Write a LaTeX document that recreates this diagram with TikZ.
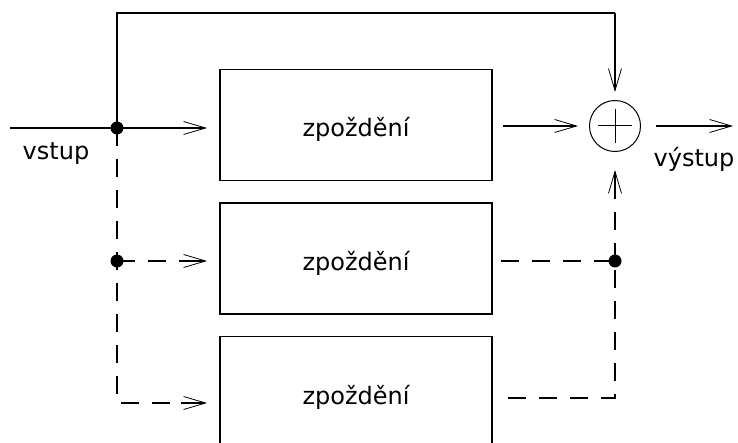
\documentclass[tikz,border=0pt]{standalone}
\usepackage{fontspec}
\setmainfont{DejaVu Sans}
\usetikzlibrary{arrows.meta}
\begin{document}
\begin{tikzpicture}[x=1pt,y=-1pt,
  line width=1.3pt,
  txt/.style={font=\fontsize{24pt}{28pt}\selectfont, inner sep=0pt, anchor=base},
  delaybox/.style={draw, line width=1.3pt, minimum width=272pt, minimum height=111pt,
    inner sep=0pt, font=\fontsize{24pt}{28pt}\selectfont, text height=24pt, text depth=0pt},
  sumnode/.style={draw, circle, line width=1pt, minimum size=51pt, inner sep=0pt},
  dot/.style={circle, fill=black, inner sep=0pt, minimum size=13pt},
  arr/.style={-{Straight Barb[length=22pt,width=13pt,line width=0.8pt]}},
  dsh/.style={dash pattern=on 18pt off 13pt}]
\clip (0,0) rectangle (738,443);
\useasboundingbox (0,0) rectangle (738,443);
\fill[white] (0,0) rectangle (738,443);
% boxes
\node[delaybox] (b1) at (356,125) {zpoždění};
\node[delaybox] (b2) at (356,258.5) {zpoždění};
\node[delaybox] (b3) at (356,392) {zpoždění};
% sum
\node[sumnode] (sum) at (615,126) {};
\draw[line width=1pt] ([xshift=-17pt]sum.center) -- ([xshift=17pt]sum.center);
\draw[line width=1pt] ([yshift=-17pt]sum.center) -- ([yshift=17pt]sum.center);
% coordinates
\coordinate (in) at (10,128);
\node[dot] (j1) at (117,128) {};
\node[dot] (j2) at (117,261) {};
\coordinate (j3) at (117,403);
\coordinate (a1) at (207,128);
\coordinate (a2) at (207,261);
\coordinate (a3) at (207,403);
\coordinate (tl) at (117,13);
\coordinate (tr) at (615,13);
\coordinate (ttip) at (615,92);
\coordinate (o1) at (503,126);
\coordinate (s1) at (578,126);
\coordinate (o2) at (501,261);
\node[dot] (k2) at (615,261) {};
\coordinate (o3) at (508,398);
\coordinate (k3) at (615,398);
\coordinate (btip) at (615,170);
\coordinate (bst) at (615,196);
\coordinate (bds) at (615,192);
\coordinate (outs) at (656,126);
\coordinate (oute) at (733,126);
% input
\draw (in) -- (j1.center);
\draw[arr] (j1.center) -- (a1);
\draw[line width=1.2pt] (j1.center) -- (tl) -- (tr);
\draw[arr] (tr) -- (ttip);
\draw[dsh] (j1.center) -- (j3) -- ([xshift=-22pt]a3);
\draw[arr] ([xshift=-26pt]a3) -- (a3);
\draw[dsh] (j2.center) -- ([xshift=-22pt]a2);
\draw[arr] ([xshift=-26pt]a2) -- (a2);
% outputs
\draw[arr] (o1) -- (s1);
\draw[dsh] (o2) -- (k2.center);
\draw[dsh, line width=1.6pt] (o3) -- (k3) -- (k2.center);
\draw[dsh] (k2.center) -- (bds);
\draw[arr] (bst) -- (btip);
\draw[arr] (outs) -- (oute);
% labels
\node[txt] (lin) at (56,160) {vstup};
\node[txt] (lout) at (694,167) {výstup};
\end{tikzpicture}
\end{document}
